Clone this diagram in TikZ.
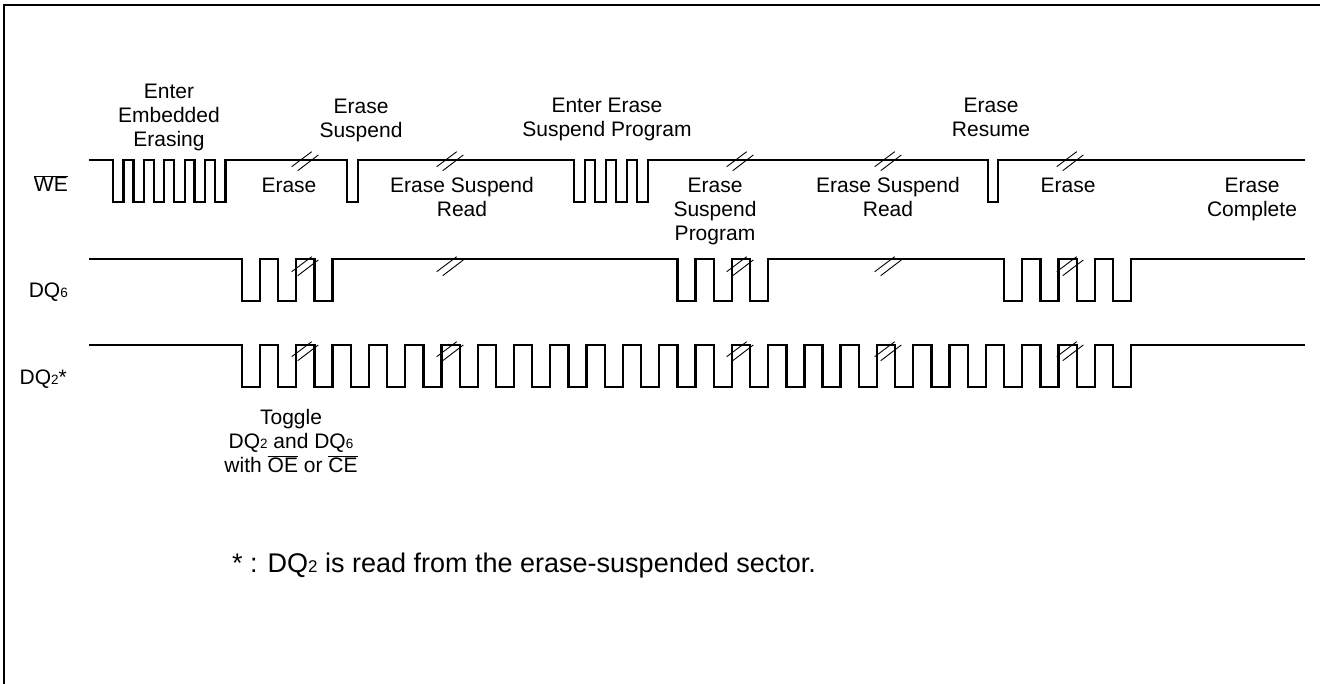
\documentclass[tikz,border=0pt]{standalone}
\usepackage{fontspec}
\setmainfont{Liberation Sans}
\newcommand\ovl[1]{$\overline{\mbox{#1}}$}
\newcommand\dqsub[1]{{\fontsize{13.5}{13.5}\selectfont #1}}
\newcommand\dqsubb[1]{{\fontsize{17}{17}\selectfont #1}}
\tikzset{
  wave/.style={line width=2.3pt, line join=miter},
  brk/.style={line width=0.9pt},
  lbl/.style={font=\fontsize{21}{24}\selectfont, align=center, inner sep=0pt, anchor=base},
  frame/.style={line width=1.5pt}
}
\begin{document}
\begin{tikzpicture}[x=1pt,y=-1pt]
\useasboundingbox (0,0) rectangle (1320,684);
% frame
\draw[frame] (4,684) -- (4,5) -- (1320,5);
% WE
\draw[wave] (89,160)
  \foreach \f in {113,133.4,153.8,174.2,194.6,215} { -- (\f,160) -- (\f,202) -- (\f+10.5,202) -- (\f+10.5,160) }
  -- (347,160) -- (347,202) -- (358,202) -- (358,160)
  \foreach \f in {574,595,616,637} { -- (\f,160) -- (\f,202) -- (\f+11,202) -- (\f+11,160) }
  -- (988,160) -- (988,202) -- (998,202) -- (998,160) -- (1305,160);
% DQ6
\draw[wave] (89,259)
  \foreach \k in {0,1,2,12,13,14,21,22,23,24} { -- ({242+36.29*\k},259) -- ({242+36.29*\k},301) -- ({260+36.29*\k},301) -- ({260+36.29*\k},259) }
  -- (1305,259);
% DQ2
\draw[wave] (89,345)
  \foreach \k in {0,...,24} { -- ({242+36.29*\k},345) -- ({242+36.29*\k},387) -- ({260+36.29*\k},387) -- ({260+36.29*\k},345) }
  -- (1305,345);
% break marks
\foreach \cx in {305,450,740,888,1070} {
  \foreach \cy in {161,266,351} {
    \draw[brk] (\cx-13.3,\cy+5.7) -- (\cx+6.7,\cy-9.3);
    \draw[brk] (\cx-7.3,\cy+9.7) -- (\cx+13.3,\cy-6);
  }
}
% signal names
\node[lbl, anchor=base east] (nWE) at (68,192) {\ovl{WE}};
\node[lbl, anchor=base east] (nDQ6) at (68,298) {DQ\dqsub{6}};
\node[lbl, anchor=base east] (nDQ2) at (67,385) {DQ\dqsub{2}*};
% phase labels (base = baseline of last line)
\node[lbl] (tEnter) at (169,147) {Enter\\Embedded\\Erasing};
\node[lbl] (tSusp) at (361,138) {Erase\\Suspend};
\node[lbl] (tErase1) at (289,193) {Erase};
\node[lbl] (tRead1) at (462,217) {Erase Suspend\\Read};
\node[lbl] (tEnterP) at (607,137) {Enter Erase\\Suspend Program};
\node[lbl] (tProg) at (715,241) {Erase\\Suspend\\Program};
\node[lbl] (tRead2) at (888,217) {Erase Suspend\\Read};
\node[lbl] (tResume) at (991,137) {Erase\\Resume};
\node[lbl] (tErase2) at (1068,193) {Erase};
\node[lbl] (tDone) at (1252,217) {Erase\\Complete};
\node[lbl] (tToggle) at (291,472) {Toggle\\DQ\dqsub{2} and DQ\dqsub{6}\\with \ovl{OE} or \ovl{CE}};
\node[lbl, font=\fontsize{27}{30}\selectfont, anchor=base west] (tNote) at (232,572) {* : DQ\dqsubb{2} is read from the erase-suspended sector.};
\end{tikzpicture}
\end{document}
